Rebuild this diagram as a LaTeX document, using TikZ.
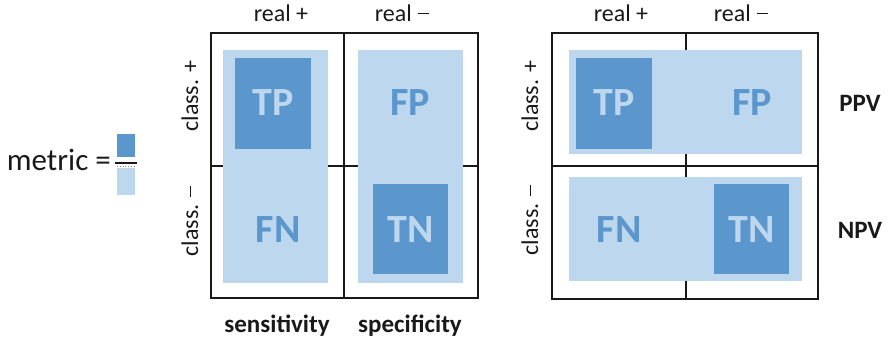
\documentclass[tikz,border=0pt]{standalone}
\usepackage{fontspec}
\setmainfont{Carlito}
\definecolor{dk}{RGB}{91,150,204}
\definecolor{lt}{RGB}{189,215,238}
\definecolor{ink}{RGB}{25,25,25}
\newcommand{\mysign}{\hspace{0.03em}\rule[0.29em]{0.46em}{0.065em}}
\begin{document}
\begin{tikzpicture}[x=1pt,y=-1pt,
 frame/.style={draw=ink,line width=2pt},
 cellonlight/.style={font=\bfseries\fontsize{40}{44}\selectfont,text=dk,inner sep=0pt},
 cellondark/.style={font=\bfseries\fontsize{40}{44}\selectfont,text=lt,inner sep=0pt},
 head/.style={font=\fontsize{24}{28}\selectfont,text=ink,inner sep=0pt},
 metricname/.style={font=\bfseries\fontsize{25}{28}\selectfont,text=ink,inner sep=0pt}]
\useasboundingbox (0,0) rectangle (888,343);

% ---- metric legend
\node[font=\fontsize{31}{34}\selectfont,text=ink,inner sep=0pt,anchor=east] (metric) at (111,160) {metric =};
\fill[dk] (117,134) rectangle (135,157);
\draw[ink,line width=1.8pt] (115,163) -- (137,163);
\draw[gray,line width=0.8pt,dotted] (117,166.5) -- (135,166.5);
\fill[lt] (117,168) rectangle (135,195);

% ---- left matrix
\draw[frame] (211,33) rectangle (478,298);
\draw[frame] (344,33) -- (344,298);
\draw[frame] (211,166) -- (478,166);
\fill[lt] (223,50) rectangle (328,283);
\fill[lt] (358,50) rectangle (463,283);
\fill[dk] (235,58) rectangle (311,149);
\fill[dk] (373,184) rectangle (448,274);
\node[cellondark] (tp1) at (273,103) {TP};
\node[cellonlight] (fp1) at (410,103) {FP};
\node[cellonlight] (fn1) at (278,230) {FN};
\node[cellondark] (tn1) at (411,230) {TN};
\node[head] (rp1) at (281,13) {real +};
\node[head] (rm1) at (402,13) {real \mysign};
\node[head,rotate=90] (cp1) at (190,96) {class. +};
\node[head,rotate=90] (cm1) at (190,221) {class. \mysign};
\node[metricname] (sens) at (277,326) {sensitivity};
\node[metricname] (spec) at (410,326) {specificity};

% ---- right matrix
\draw[frame] (552,33) rectangle (818,299);
\draw[frame] (686,33) -- (686,299);
\draw[frame] (552,166) -- (818,166);
\fill[lt] (569,50) rectangle (802,154);
\fill[lt] (569,177) rectangle (802,281);
\fill[dk] (576,58) rectangle (652,149);
\fill[dk] (714,184) rectangle (789,274);
\node[cellondark] (tp2) at (614,103) {TP};
\node[cellonlight] (fp2) at (752,103) {FP};
\node[cellonlight] (fn2) at (619,230) {FN};
\node[cellondark] (tn2) at (752,230) {TN};
\node[head] (rp2) at (621,13) {real +};
\node[head] (rm2) at (741,13) {real \mysign};
\node[head,rotate=90] (cp2) at (530,96) {class. +};
\node[head,rotate=90] (cm2) at (530,220) {class. \mysign};
\node[metricname] (ppv) at (860,103) {PPV};
\node[metricname] (npv) at (860,230) {NPV};
\end{tikzpicture}
\end{document}
